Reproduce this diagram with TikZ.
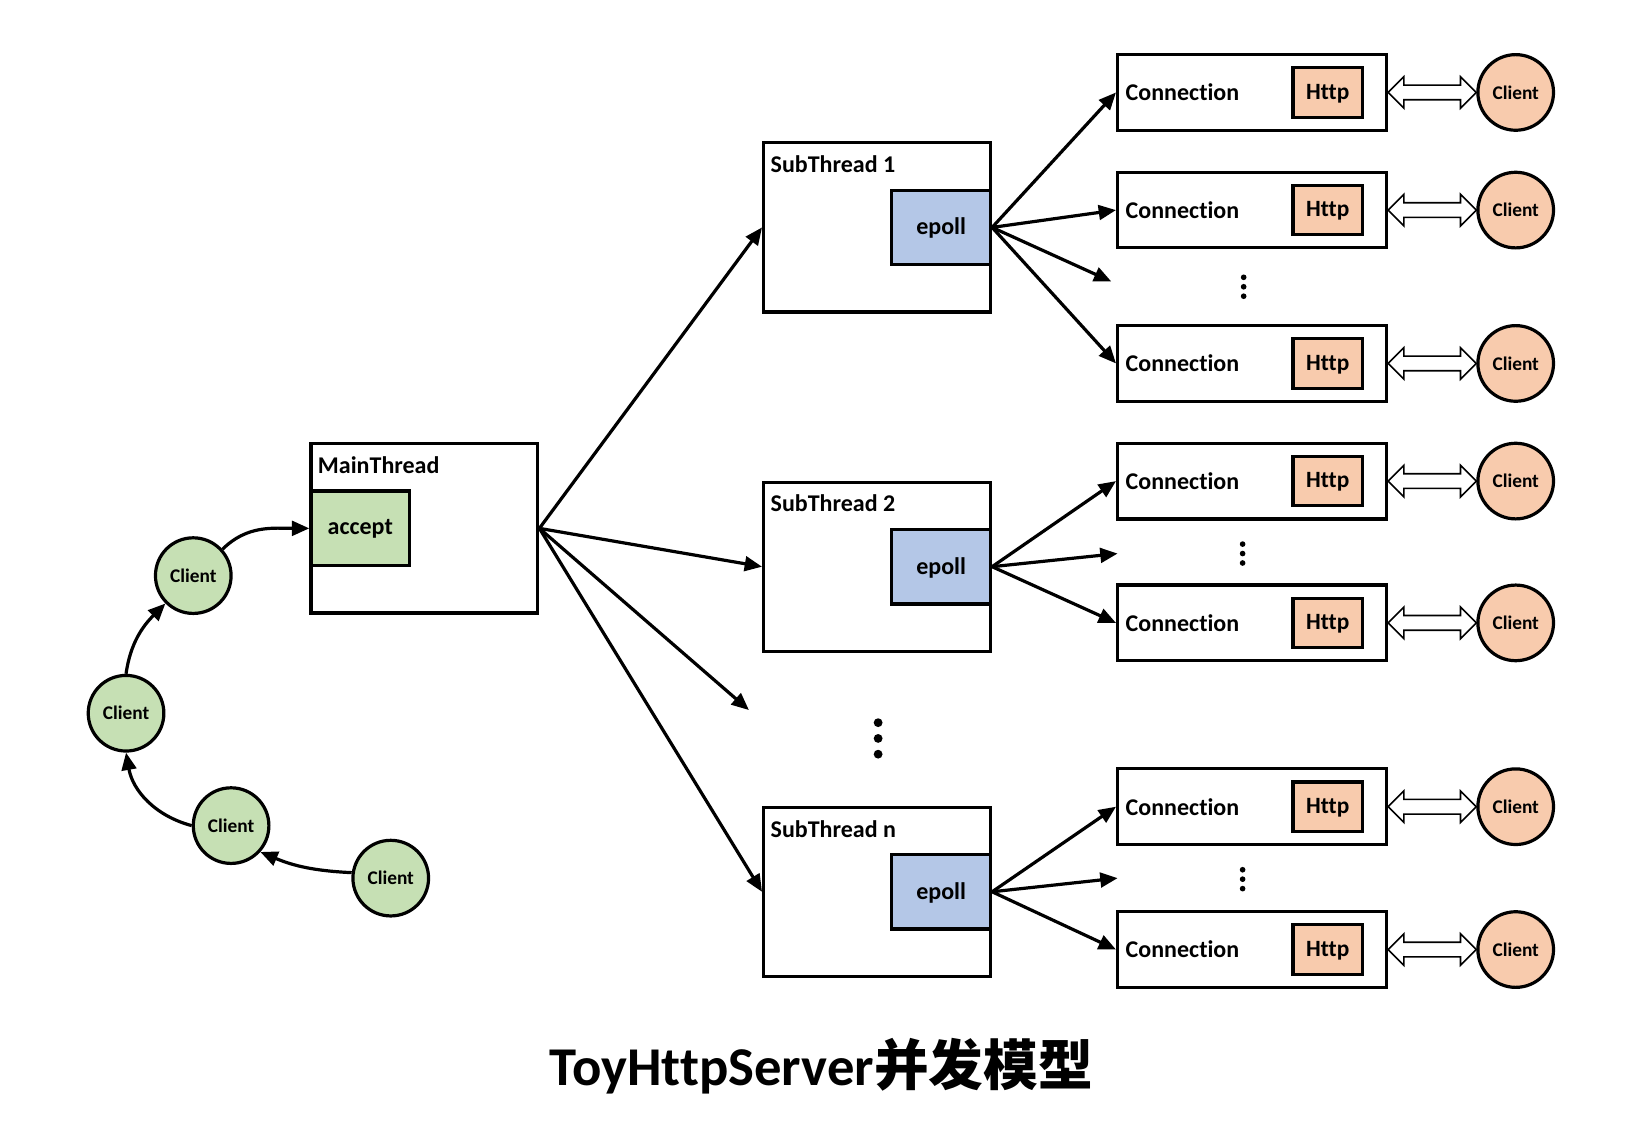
\documentclass[tikz,border=0pt]{standalone}
\usepackage{fontspec}
\setmainfont{Carlito}[Ligatures={NoCommon,NoRare}]
\newfontfamily\cjk{Noto Sans CJK SC}
\usetikzlibrary{arrows.meta,calc}
\def\uu{0.7875pt}
\definecolor{gfill}{HTML}{C6E0B4}
\definecolor{bfill}{HTML}{B4C7E7}
\definecolor{pfill}{HTML}{F8CBAD}
\tikzset{
 box/.style={draw, line width=2.4pt, fill=white, inner sep=0pt},
 thread/.style={box, minimum width=216*\uu, minimum height=161*\uu},
 inbox/.style={box, minimum width=94*\uu, minimum height=71*\uu, text depth=0.15em, font=\bfseries\fontsize{18}{20}\selectfont},
 conn/.style={box, minimum width=256*\uu, minimum height=72*\uu},
 http/.style={box, fill=pfill, minimum width=66*\uu, minimum height=47*\uu, text depth=0.1em, font=\bfseries\fontsize{17.5}{20}\selectfont},
 client/.style={circle, draw, line width=2.4pt, minimum size=72*\uu, inner sep=0pt, font=\bfseries\fontsize{14.5}{16}\selectfont},
 pclient/.style={client, fill=pfill},
 gclient/.style={client, fill=gfill},
 lbl/.style={anchor=west, inner sep=0pt, font=\bfseries\fontsize{18}{20}\selectfont},
 arr/.style={line width=2.4pt, -{Triangle[length=13pt,width=11pt]}},
 dbl/.style={draw, line width=1.2pt, fill=white},
}
\begin{document}
\begin{tikzpicture}[x=\uu, y=\uu]
\useasboundingbox (0,0) rectangle (1568,-1088);

% main thread
\node[thread] (main) at (404,-503) {};
\node[lbl] (mainlbl) at ($(main.north west)+(8,-22)$) {MainThread};
\node[inbox, fill=gfill, anchor=west] (acc) at (main.west) {accept};

% sub threads
\node[thread] (st1) at (835,-216.5) {};
\node[lbl] (st1lbl) at ($(st1.north west)+(8,-22)$) {SubThread 1};
\node[inbox, fill=bfill, anchor=east] (ep1) at (st1.east) {epoll};

\node[thread] (st2) at (835,-539.5) {};
\node[lbl] (st2lbl) at ($(st2.north west)+(8,-22)$) {SubThread 2};
\node[inbox, fill=bfill, anchor=east] (ep2) at (st2.east) {epoll};

\node[thread] (stn) at (835,-849) {};
\node[lbl] (stnlbl) at ($(stn.north west)+(8,-22)$) {SubThread n};
\node[inbox, fill=bfill, anchor=east] (epn) at (stn.east) {epoll};

% connections
\foreach \i/\y in {1/88,2/200,3/346,4/458,5/593,6/768,7/904}{
  \node[conn] (c\i) at (1192,-\y) {};
  \node[lbl] (cl\i) at ($(c\i.west)+(9,0)$) {Connection};
  \node[http, anchor=east] (h\i) at ($(c\i.east)+(-23,0)$) {Http};
  \node[pclient] (pc\i) at (1443,-\y) {Client};
  \draw[dbl] (c\i.east) -- ++(15,15) -- ++(0,-8) -- ($(pc\i.west)+(-15,7)$) -- ++(0,8)
     -- (pc\i.west) -- ++(-15,-15) -- ++(0,8) -- ($(c\i.east)+(15,-7)$) -- ++(0,-8) -- cycle;
}

% arrows from main thread
\coordinate (mfree) at (713,-676);
\draw[arr] (main.east) -- (st1.west);
\draw[arr] (main.east) -- (st2.west);
\draw[arr] (main.east) -- (mfree);
\draw[arr] (main.east) -- (stn.west);

% arrows from epolls
\coordinate (f1) at (1058,-268);
\coordinate (f2) at (1064,-527);
\coordinate (f3) at (1064,-836);
\draw[arr] (ep1.east) -- (c1.west);
\draw[arr] (ep1.east) -- (c2.west);
\draw[arr] (ep1.east) -- (f1);
\draw[arr] (ep1.east) -- (c3.west);
\draw[arr] (ep2.east) -- (c4.west);
\draw[arr] (ep2.east) -- (f2);
\draw[arr] (ep2.east) -- (c5.west);
\draw[arr] (epn.east) -- (c6.west);
\draw[arr] (epn.east) -- (f3);
\draw[arr] (epn.east) -- (c7.west);

% dots
\foreach \x/\y in {1184/273,1183/527,1183/837}{
  \foreach \d in {-9,0,9} \fill (\x,-\y+\d) circle (2.7);
}
\foreach \d in {-15,0,15} \fill (836,-703+\d) circle (4.2);

% green clients
\node[gclient] (ga) at (184,-548) {Client};
\node[gclient] (gb) at (120,-679) {Client};
\node[gclient] (gc) at (220,-786) {Client};
\node[gclient] (gd) at (372,-836) {Client};
\draw[arr] (gd.172) to[bend left=10] (gc.-42);
\draw[arr] (gc.180) to[out=165, in=-80] (gb.south);
\draw[arr] (gb.north) to[out=82, in=225] (ga.225);
\draw[arr] (ga.42) to[out=45, in=180] (acc.west);

% title
\node[inner sep=0pt, font=\bfseries\fontsize{41}{48}\selectfont] (title) at (782,-1015) {ToyHttpServer{\cjk\bfseries 并发模型}};
\end{tikzpicture}
\end{document}
